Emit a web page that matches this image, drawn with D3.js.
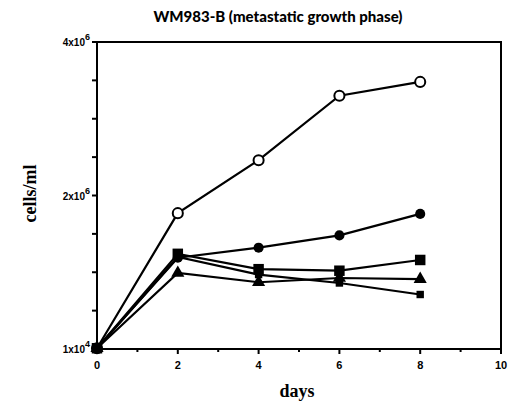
<!DOCTYPE html>
<html>
<head>
<meta charset="utf-8">
<script src="https://cdn.jsdelivr.net/npm/d3@7"></script>
<style>
  body { margin: 0; background: #fff; }
  svg { display: block; }
</style>
</head>
<body>
<svg class="chart"></svg>
<script>
// values, cells/ml in units of 10^6
var days = [0, 2, 4, 6, 8];
var openCircle   = [0.01, 1.77, 2.46, 3.30, 3.48];
var filledCircle = [0.01, 1.19, 1.32, 1.48, 1.76];
var bigSquare    = [0.01, 1.24, 1.04, 1.02, 1.16];
var triangle     = [0.01, 0.99, 0.87, 0.925, 0.91];
var smallSquare  = [0.01, 1.20, 0.97, 0.86, 0.71];

var xTicks = [0, 2, 4, 6, 8, 10];
var yLabels = [{v: 0, base: "1x10", sup: "4"}, {v: 2, base: "2x10", sup: "6"}, {v: 4, base: "4x10", sup: "6"}];

var W = 510, H = 404;
var margin = {top: 42, right: 9, bottom: 55, left: 97},
    width = W - margin.left - margin.right,
    height = H - margin.top - margin.bottom;

var chart = d3.select(".chart").attr("width", W).attr("height", H);
var g = chart.append("g").attr("transform", "translate(" + margin.left + "," + margin.top + ")");

var xScale = d3.scaleLinear().domain([0, 10]).range([0, width]);
var yScale = d3.scaleLinear().domain([0, 4]).range([height, 0]);

// frame
g.append("rect")
  .attr("width", width).attr("height", height)
  .attr("fill", "none").attr("stroke", "#000").attr("stroke-width", 2);

// x ticks (major every 2, minor every 1)
g.selectAll(".xt").data(d3.range(0, 11)).enter().append("line")
  .attr("x1", d => xScale(d)).attr("x2", d => xScale(d))
  .attr("y1", height).attr("y2", d => height + (d % 2 == 0 ? 5 : 3))
  .attr("stroke", "#000").attr("stroke-width", 2);

g.selectAll(".xl").data(xTicks).enter().append("text")
  .attr("x", d => xScale(d)).attr("y", height + 20)
  .attr("text-anchor", "middle")
  .style("font-family", "Liberation Sans, Arial, sans-serif")
  .style("font-weight", "bold").style("font-size", "11px")
  .text(d => d);

// y ticks every 0.5
g.selectAll(".yt").data(d3.range(0, 4.01, 0.5)).enter().append("line")
  .attr("x1", -5).attr("x2", 0)
  .attr("y1", d => yScale(d)).attr("y2", d => yScale(d))
  .attr("stroke", "#000").attr("stroke-width", 2);

var yl = g.selectAll(".yl").data(yLabels).enter().append("text")
  .attr("x", -7).attr("y", d => yScale(d.v) + 4)
  .attr("text-anchor", "end")
  .style("font-family", "Liberation Sans, Arial, sans-serif")
  .style("font-weight", "bold").style("font-size", "10px");
yl.append("tspan").text(d => d.base);
yl.append("tspan").attr("dy", -6).style("font-size", "9px").text(d => d.sup);

// lines + markers
var series = [
  {vals: openCircle, mark: "openCircle"},
  {vals: filledCircle, mark: "circle"},
  {vals: bigSquare, mark: "bigSquare"},
  {vals: triangle, mark: "triangle"},
  {vals: smallSquare, mark: "smallSquare"}
];

var line = d3.line()
  .x(d => xScale(d.day))
  .y(d => yScale(d.v));

series.forEach(function(s) {
  var pts = days.map((d, i) => ({day: d, v: s.vals[i]}));
  g.append("path").datum(pts)
    .attr("d", line).attr("fill", "none")
    .attr("stroke", "#000").attr("stroke-width", 2.2);
});

series.forEach(function(s) {
  var pts = days.map((d, i) => ({day: d, v: s.vals[i]}));
  var sym;
  if (s.mark == "openCircle" || s.mark == "circle") sym = d3.symbol().type(d3.symbolCircle).size(80);
  else if (s.mark == "bigSquare") sym = d3.symbol().type(d3.symbolSquare).size(110);
  else if (s.mark == "smallSquare") sym = d3.symbol().type(d3.symbolSquare).size(55);
  else sym = d3.symbol().type(d3.symbolTriangle).size(75);
  g.selectAll(null).data(pts).enter().append("path")
    .attr("d", sym)
    .attr("transform", d => "translate(" + xScale(d.day) + "," + yScale(d.v) + ")")
    .attr("fill", s.mark == "openCircle" ? "#fff" : "#000")
    .attr("stroke", "#000").attr("stroke-width", s.mark == "openCircle" ? 2 : 0);
});

// title and axis titles
chart.append("text")
  .attr("x", 278).attr("y", 22).attr("text-anchor", "middle")
  .style("font-family", "Lato, sans-serif").style("font-weight", "900").style("font-size", "15px")
  .text("WM983-B (metastatic growth phase)");

chart.append("text")
  .attr("x", margin.left + width / 2 - 2).attr("y", 397).attr("text-anchor", "middle")
  .style("font-family", "Liberation Serif, serif").style("font-weight", "bold").style("font-size", "18px")
  .text("days");

chart.append("text")
  .attr("transform", "translate(36," + (margin.top + height / 2 - 2) + ") rotate(-90)")
  .attr("text-anchor", "middle")
  .style("font-family", "Liberation Serif, serif").style("font-weight", "bold").style("font-size", "18px")
  .text("cells/ml");
</script>
</body>
</html>
